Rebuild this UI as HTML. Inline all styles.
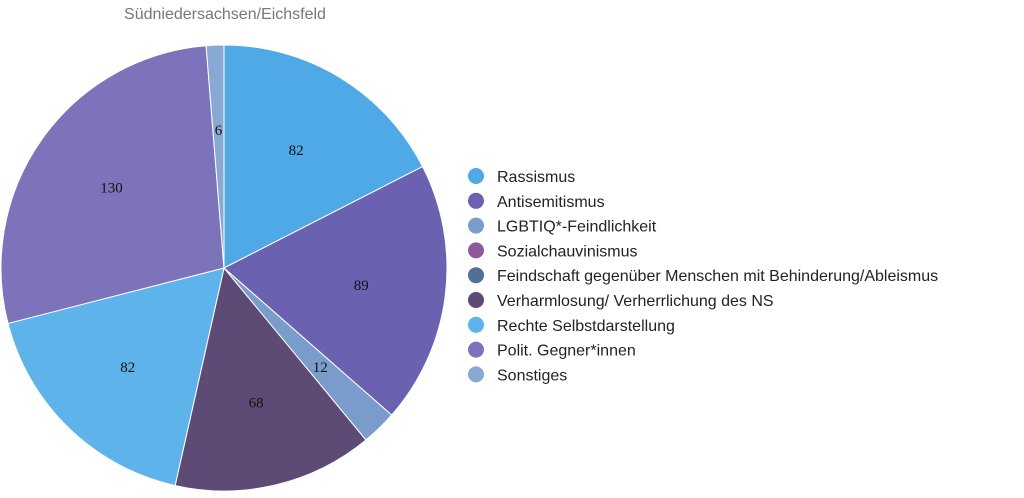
<!DOCTYPE html>
<html><head><meta charset="utf-8"><style>
body{margin:0;background:#fff;width:1024px;height:493px;overflow:hidden;font-family:"Liberation Sans",sans-serif}
</style></head><body>
<svg id="chart" width="1024" height="493" viewBox="0 0 1024 493">
<text x="225" y="19" text-anchor="middle" font-size="16" fill="#777">Südniedersachsen/Eichsfeld</text>
<g id="slices"></g><g id="labels"></g><g id="legend"></g>
</svg>
<script>
const categories=["Rassismus","Antisemitismus","LGBTIQ*-Feindlichkeit","Sozialchauvinismus","Feindschaft gegenüber Menschen mit Behinderung/Ableismus","Verharmlosung/ Verherrlichung des NS","Rechte Selbstdarstellung","Polit. Gegner*innen","Sonstiges"];
const values=[82,89,12,0,0,68,82,130,6];
const colors=["#4fa9e6","#6a62b0","#799cca","#8a5a9c","#4f7099","#5d4b75","#5db3ea","#7d73ba","#88a9d3"];
const ns="http://www.w3.org/2000/svg";
const cx=224,cy=268,r=223;
const total=values.reduce((a,b)=>a+b,0);
let a0=0;
const gs=document.getElementById('slices'),gl=document.getElementById('labels'),gg=document.getElementById('legend');
values.forEach((v,i)=>{
  if(v>0){
    const a1=a0+v/total*2*Math.PI;
    const p=(a)=>[cx+r*Math.sin(a),cy-r*Math.cos(a)];
    const [x0,y0]=p(a0),[x1,y1]=p(a1);
    const path=document.createElementNS(ns,'path');
    path.setAttribute('d',`M${cx},${cy}L${x0},${y0}A${r},${r} 0 ${a1-a0>Math.PI?1:0} 1 ${x1},${y1}Z`);
    path.setAttribute('fill',colors[i]);path.setAttribute('stroke','#fff');path.setAttribute('stroke-width','1');
    
    
    gs.appendChild(path);
    const am=(a0+a1)/2,lr=r*0.62;
    const t=document.createElementNS(ns,'text');
    t.setAttribute('x',cx+lr*Math.sin(am));t.setAttribute('y',cy-lr*Math.cos(am)+5);
    t.setAttribute('text-anchor','middle');t.setAttribute('font-size','15');
    t.setAttribute('font-family','Liberation Serif, serif');t.setAttribute('fill','#111');
    t.textContent=v;
    
    
    gl.appendChild(t);
    a0=a1;
  }
  const y=176+i*24.8;
  const c=document.createElementNS(ns,'circle');
  c.setAttribute('cx',476);c.setAttribute('cy',y);c.setAttribute('r',8);c.setAttribute('fill',colors[i]);
  
  
  gg.appendChild(c);
  const t=document.createElementNS(ns,'text');
  t.setAttribute('x',497);t.setAttribute('y',y+6);t.setAttribute('font-size','16');t.setAttribute('fill','#222');
  t.textContent=categories[i];
  
  
  gg.appendChild(t);
});
</script>
</body></html>
